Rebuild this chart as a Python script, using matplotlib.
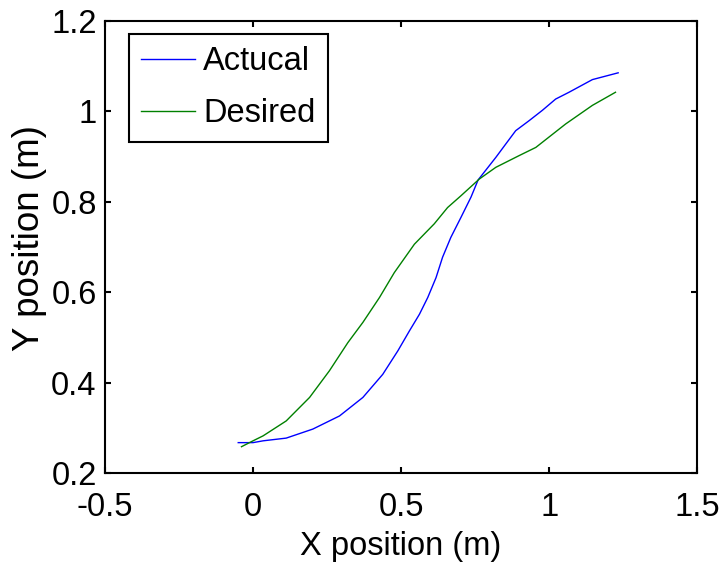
import matplotlib
matplotlib.use('Agg')
import matplotlib.pyplot as plt

# trajectory
actual_x = [-0.05, 0.0, 0.034, 0.112, 0.202, 0.292, 0.371, 0.438, 0.489, 0.528, 0.562,
            0.590, 0.618, 0.640, 0.668, 0.702, 0.736, 0.760, 0.820, 0.854, 0.887,
            0.932, 0.977, 1.022, 1.067, 1.146, 1.233]
actual_y = [0.267, 0.267, 0.271, 0.277, 0.297, 0.326, 0.367, 0.418, 0.470, 0.514, 0.551,
            0.588, 0.632, 0.677, 0.721, 0.765, 0.810, 0.848, 0.898, 0.928, 0.957,
            0.979, 1.002, 1.027, 1.042, 1.070, 1.085]

desired_x = [-0.039, 0.0, 0.034, 0.112, 0.191, 0.258, 0.320, 0.371, 0.427, 0.477, 0.545,
             0.612, 0.657, 0.702, 0.764, 0.820, 0.899, 0.955, 1.056, 1.146, 1.224]
desired_y = [0.258, 0.271, 0.282, 0.315, 0.367, 0.426, 0.488, 0.533, 0.588, 0.643, 0.706,
             0.751, 0.787, 0.813, 0.850, 0.876, 0.902, 0.920, 0.972, 1.013, 1.042]

xticks = [-0.5, 0, 0.5, 1, 1.5]
xtick_labels = ['-0.5', '0', '0.5', '1', '1.5']
yticks = [0.2, 0.4, 0.6, 0.8, 1.0, 1.2]
ytick_labels = ['0.2', '0.4', '0.6', '0.8', '1', '1.2']

plt.rcParams['font.family'] = ['Liberation Sans', 'DejaVu Sans']
fs = 23.5

fig = plt.figure(figsize=(7.24, 5.63), dpi=100)
ax = fig.add_axes([0.145, 0.160, 0.818, 0.803])

ax.plot(actual_x, actual_y, color='#0000ff', lw=1.0, label='Actucal')
ax.plot(desired_x, desired_y, color='#008000', lw=1.0, label='Desired')

ax.set_xlim(-0.5, 1.5)
ax.set_ylim(0.2, 1.2)
ax.set_xticks(xticks)
ax.set_xticklabels(xtick_labels)
ax.set_yticks(yticks)
ax.set_yticklabels(ytick_labels)
ax.tick_params(direction='in', top=True, right=True, length=4.5, width=1.5, labelsize=fs)
ax.tick_params(axis='x', pad=14)
ax.tick_params(axis='y', pad=6)
for s in ax.spines.values():
    s.set_linewidth(1.5)

# x label sits low, right at the bottom edge
ax.set_xlabel('X position (m)', fontsize=fs)
ax.xaxis.set_label_coords(0.5, -0.181)
ax.xaxis.label.set_va('baseline')
ax.set_ylabel('Y position (m)', fontsize=26.5)
ax.yaxis.set_label_coords(-0.098, 0.52)

leg = ax.legend(loc='upper left', bbox_to_anchor=(0.0405, 0.971), borderaxespad=0,
                fancybox=False, framealpha=1, edgecolor='black', fontsize=fs,
                handlelength=1.65, handletextpad=0.25, borderpad=0.38, labelspacing=0.645)
leg.get_frame().set_linewidth(1.5)

fig.savefig('out.png', dpi=100)
